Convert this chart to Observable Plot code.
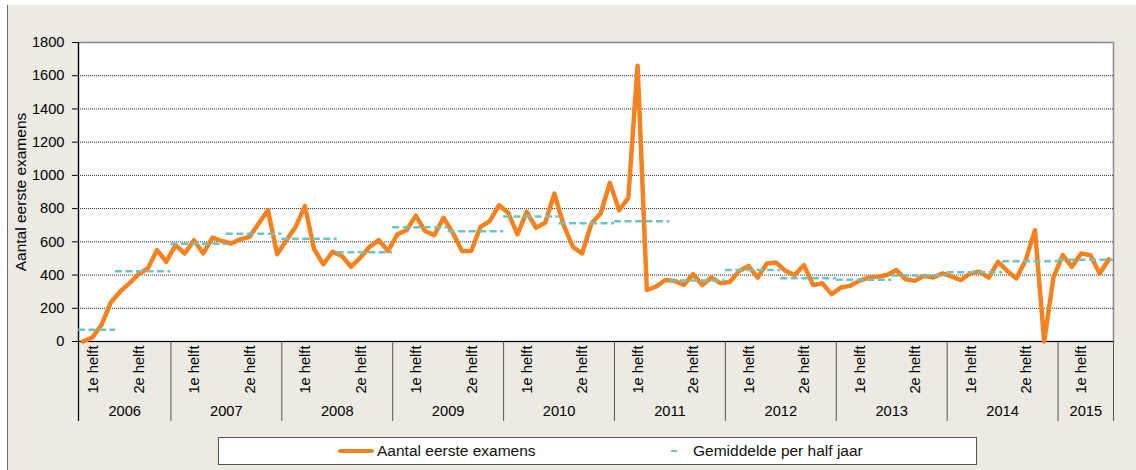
<!DOCTYPE html>
<html><head><meta charset="utf-8">
<script src="https://cdn.jsdelivr.net/npm/d3@7"></script>
<script src="https://cdn.jsdelivr.net/npm/@observablehq/plot@0.6"></script>
<style>
body{margin:0;background:#fff;font-family:"Liberation Sans",Arial,sans-serif;}
#wrap{position:relative;width:1136px;height:470px;overflow:hidden;}
#bg{position:absolute;left:7px;top:5px;right:0;bottom:0;background:#EDEAE4;border-left:1.5px solid #6b6b6b;}
#chart{position:absolute;left:0;top:0;}
#legend{position:absolute;left:218px;top:437px;width:759px;height:28px;background:#fff;border:1px solid #555;box-sizing:border-box;font-size:15.5px;color:#111;}
#legend .sw{position:absolute;}
#legend .tx{position:absolute;top:0;line-height:26px;white-space:nowrap;}
</style></head><body>
<div id="wrap"><div id="bg"></div><div id="chart"></div><div id="legend"></div></div>
<script>
// Monthly counts, March 2006 .. June 2015
const counts = [
  0, 25, 100, 235, 300, 350, 405, 440, 550, 480,
  580, 530, 610, 530, 625, 605, 590, 615, 630, 710, 790, 525,
  610, 690, 815, 555, 465, 540, 515, 450, 505, 570, 610, 545,
  645, 670, 758, 665, 640, 745, 655, 545, 545, 690, 725, 820,
  775, 645, 780, 685, 715, 890, 700, 570, 530, 710, 770, 955,
  790, 865, 1660, 310, 330, 370, 365, 340, 405, 340, 385, 350,
  360, 425, 455, 385, 470, 475, 425, 400, 460, 340, 350, 285,
  325, 335, 365, 385, 390, 400, 430, 375, 365, 395, 385, 410,
  390, 370, 410, 420, 385, 480, 425, 380, 490, 670, 0, 385,
  520, 450, 530, 520, 410, 495
];
// Average per half year (2006 H1 .. 2015 H1)
const halfAverages = [70, 423, 588, 648, 618, 538, 688, 664, 752, 712, 724, 367, 431, 381, 371, 397, 417, 483, 492];
const firstYear = 2006;
const firstMonth = 2; // March (0-based)
const halfLabels = ["1e helft", "2e helft"];
const yTicks = [0, 200, 400, 600, 800, 1000, 1200, 1400, 1600, 1800];
const seriesNames = ["Aantal eerste examens", "Gemiddelde per half jaar"];
const yLabel = "Aantal eerste examens";
const colors = ["#F5821F", "#6FC3BD"];

const months = counts.map((v, i) => {
  const t = firstMonth + i;
  return {i, value: v, year: firstYear + Math.floor(t / 12), half: (t % 12) < 6 ? 0 : 1};
});
const halves = d3.groups(months, d => d.year + "-" + d.half).map(([k, arr], j) => ({
  year: arr[0].year, half: arr[0].half, start: arr[0].i, end: arr[arr.length - 1].i + 1, avg: halfAverages[j]
}));
const years = d3.groups(months, d => d.year).map(([y, arr]) => ({
  year: y, start: arr[0].i, end: arr[arr.length - 1].i + 1
}));
const bounds = [0, ...years.map(d => d.end)];
const n = counts.length;

const chart = Plot.plot({
  width: 1136, height: 430,
  marginLeft: 78, marginRight: 23, marginTop: 42, marginBottom: 89,
  style: {background: "transparent", fontFamily: "'Liberation Sans', Arial, sans-serif", fontSize: "14.67px", color: "#000"},
  x: {domain: [0, n], axis: null},
  y: {domain: [0, 1800], ticks: yTicks, tickSize: 6, tickPadding: 8, label: null, tickFormat: d => String(d)},
  marks: [
    Plot.frame({fill: "white", stroke: "#8a8a8a", strokeWidth: 1.5}),
    Plot.ruleY(yTicks.filter(d => d > 0 && d < 1800), {stroke: "#000", strokeOpacity: 0.85, strokeDasharray: "1,1", strokeWidth: 1}),
    Plot.ruleX(bounds, {x: d => d, insetTop: 299, insetBottom: -80, stroke: "#555", strokeWidth: 1}),
    Plot.ruleX([0], {stroke: "#000", strokeWidth: 1.2, insetBottom: -80}),
    Plot.ruleY([0], {stroke: "#000", strokeWidth: 1.2}),
    Plot.line(months, {x: d => d.i + 0.5, y: "value", stroke: colors[0], strokeWidth: 4.5, strokeLinejoin: "round", strokeLinecap: "round"}),
    Plot.ruleY(halves, {x1: "start", x2: "end", y: "avg", stroke: colors[1], strokeWidth: 2.5, strokeDasharray: "7,3.5"}),
    Plot.text(halves, {x: d => (d.start + d.end) / 2, text: d => halfLabels[d.half], frameAnchor: "bottom", rotate: -90, textAnchor: "end", lineAnchor: "middle", dy: 4, dx: -4, fill: "#000"}),
    Plot.text(years, {x: d => (d.start + d.end) / 2, text: d => String(d.year), frameAnchor: "bottom", dy: 70, lineAnchor: "middle", fill: "#000"}),
    Plot.text([yLabel], {frameAnchor: "left", textAnchor: "middle", dx: -57, rotate: -90, lineAnchor: "middle", fontSize: 15.5, fill: "#000"})
  ]
});
document.getElementById("chart").appendChild(chart);

const lg = document.getElementById("legend");
lg.innerHTML = `
  <div class="sw" style="left:119px;top:10.5px;width:36px;height:4.5px;border-radius:2px;background:${colors[0]}"></div>
  <div class="tx" style="left:158px">${seriesNames[0]}</div>
  <div class="sw" style="left:452px;top:11.5px;width:6px;height:2.5px;background:${colors[1]}"></div>
  <div class="tx" style="left:474px">${seriesNames[1]}</div>`;
</script>
</body></html>
